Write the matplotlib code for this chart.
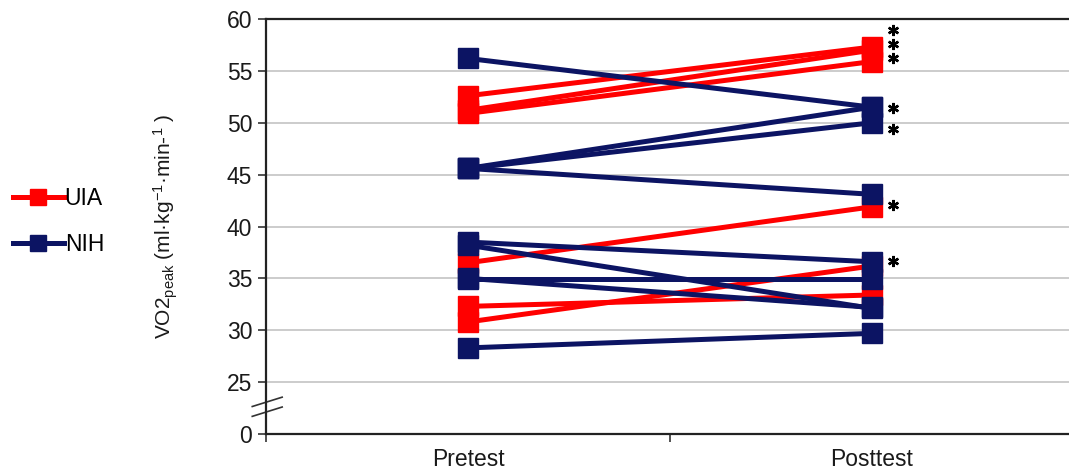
import matplotlib
matplotlib.use('Agg')
import matplotlib.pyplot as plt
from matplotlib.lines import Line2D
import matplotlib.transforms as mtransforms

plt.rcParams['font.family'] = ['Liberation Sans', 'DejaVu Sans']
plt.rcParams['mathtext.default'] = 'regular'

# values (VO2peak, ml/kg/min)
phases = ['Pretest', 'Posttest']
uia_pre = [52.6, 51.2, 50.9, 36.5, 32.3, 30.8]
uia_post = [57.3, 57.0, 55.9, 41.9, 33.4, 36.2]
nih_pre = [56.2, 45.6, 45.6, 45.6, 38.5, 38.2, 34.9, 35.0, 28.3]
nih_post = [51.5, 51.5, 50.0, 43.1, 36.6, 32.1, 34.9, 32.2, 29.7]
star_y = [58.9, 57.6, 56.2, 51.4, 49.4, 42.1, 36.7]

ytick_vals = [20, 25, 30, 35, 40, 45, 50, 55, 60]
ytick_labels = ['0', '25', '30', '35', '40', '45', '50', '55', '60']

red = '#ff0000'
navy = '#0c1463'

fig = plt.figure(figsize=(10.69, 4.72), dpi=100)
ax = fig.add_axes([266 / 1069, 1 - 434 / 472, 808 / 1069, 415 / 472])

xpos = [0.5, 1.5]
for a, b in zip(uia_pre, uia_post):
    ax.plot(xpos, [a, b], color=red, lw=3.6, marker='s', ms=14,
            solid_capstyle='butt', zorder=3)
for a, b in zip(nih_pre, nih_post):
    ax.plot(xpos, [a, b], color=navy, lw=3.6, marker='s', ms=14,
            solid_capstyle='butt', zorder=4)

# significance asterisks
ax.plot([1.553] * len(star_y), star_y, ls='none', marker=(6, 2, 0), ms=8,
        mew=1.7, color='black', zorder=5)

ax.set_xlim(0, 2)
ax.set_ylim(20, 60)
ax.set_yticks(ytick_vals)
ax.set_yticklabels(ytick_labels)
ax.set_xticks([0, 1, 2])
ax.set_xticklabels([])
ax.set_xticks(xpos, minor=True)
ax.set_xticklabels(phases, minor=True)
ax.tick_params(axis='x', which='minor', length=0, pad=10, labelsize=16.5,
               labelcolor='#1a1a1a')
ax.tick_params(axis='x', which='major', direction='out', length=6, width=1.2, color='#333333')
ax.tick_params(axis='y', direction='out', length=6, width=1.2, color='#333333',
               labelsize=16.5, pad=4, labelcolor='#1a1a1a')

for y in ytick_vals[1:-1]:
    ax.axhline(y, color='#c8c8c8', lw=1.3, zorder=1)

for side in ['left', 'bottom', 'top']:
    ax.spines[side].set_color('#222222')
    ax.spines[side].set_linewidth(1.6)
ax.spines['right'].set_visible(False)

# axis break marks
tr = mtransforms.blended_transform_factory(ax.transAxes, ax.transData)
for y0 in [22.65, 21.7]:
    ax.add_line(Line2D([-0.017, 0.02], [y0, y0 + 0.9], transform=tr,
                       color='#333333', lw=1.2, clip_on=False))

ax.set_ylabel('VO2$_{peak}$ (ml·kg$^{-1}$·min-$^{1}$ )', fontsize=15, color='#1a1a1a')
ax.yaxis.set_label_coords(-0.106, 0.5)

handles = [Line2D([], [], color=red, lw=3.6, marker='s', ms=11),
           Line2D([], [], color=navy, lw=3.6, marker='s', ms=11)]
fig.legend(handles, ['UIA', 'NIH'], loc='center left', bbox_to_anchor=(-0.007, 0.53),
           frameon=False, fontsize=16.5, handlelength=2.2, handletextpad=0.05,
           labelspacing=1.0)

fig.savefig('out.png', dpi=100)
